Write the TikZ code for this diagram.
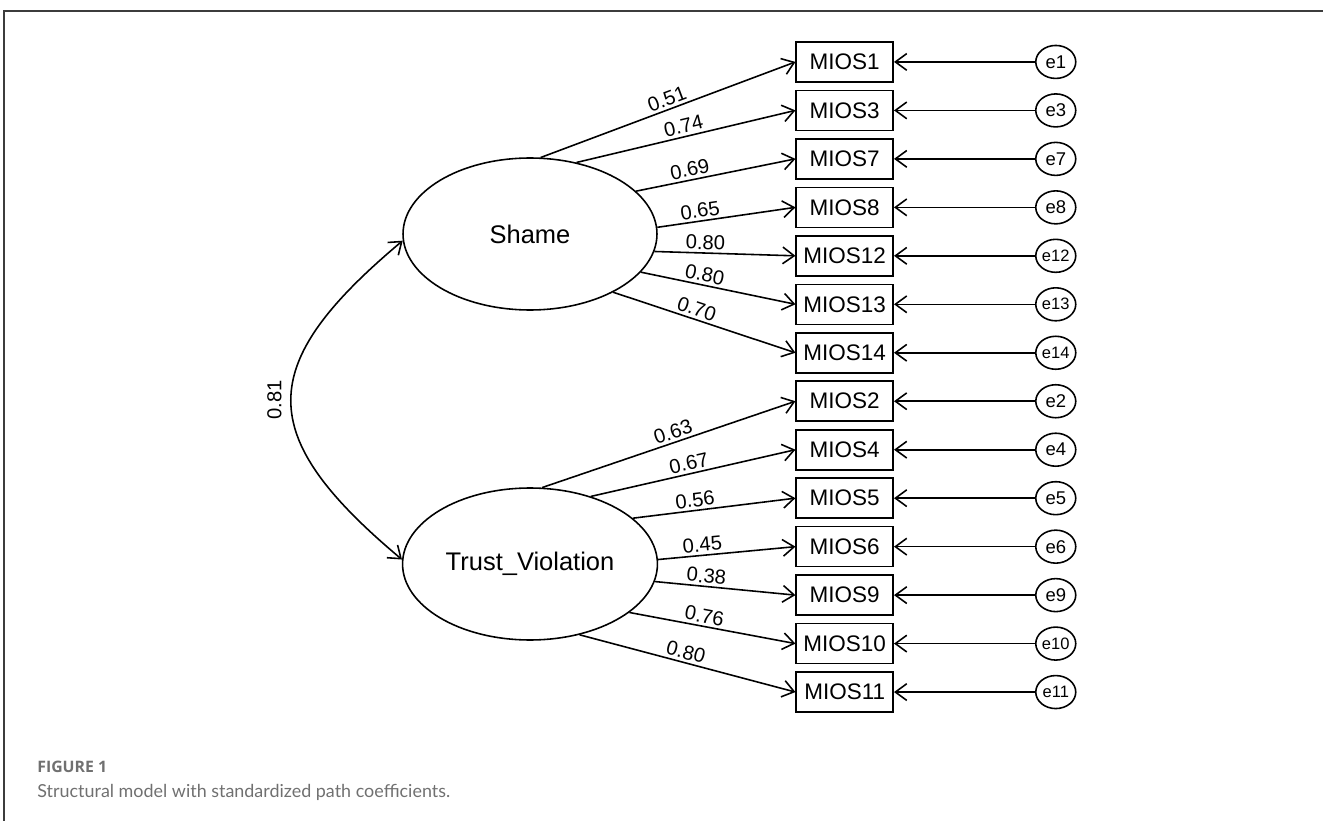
\documentclass[tikz,border=0pt]{standalone}
\usepackage{fontspec}
\setmainfont{Liberation Sans}
\newfontfamily\capfont{Lato}
\newfontfamily\figfont{Open Sans}
\definecolor{capgray}{RGB}{112, 112, 112}
\definecolor{framegray}{RGB}{60, 60, 60}
\usetikzlibrary{arrows.meta}
\usetikzlibrary{matrix}
\usetikzlibrary{shapes.geometric}
\tikzset{
  every matrix/.style={
    matrix of nodes,
    row sep=0.138cm, column sep=2.82cm,
    nodes={anchor=center},
    column 1/.style={nodes=indicator},
    column 2/.style={nodes=errnode},
    ampersand replacement=\&
  },
  indicator/.style={draw, line width=0.9pt, inner sep=0,
    minimum width=1.94cm, minimum height=0.8cm, font=\fontsize{12.8}{15}\selectfont},
  errnode/.style={ellipse, draw, line width=0.9pt, inner sep=0,
    minimum width=0.8cm, minimum height=0.66cm, font=\fontsize{10.5}{12}\selectfont},
  errtwo/.style={font=\fontsize{9.4}{11}\selectfont},
  latent/.style={ellipse, draw, line width=0.9pt,
    minimum width=5.08cm, minimum height=3.04cm, font=\fontsize{14.5}{17}\selectfont},
  >={Straight Barb[length=6.5pt,width=9.5pt]},
  arrow/.style={->, line width=0.9pt},
  coef/.style={sloped, above, inner sep=1.5pt, font=\fontsize{11.5}{13}\selectfont}
}

\begin{document}
\begin{tikzpicture}[x=0.02cm, y=-0.02cm]
\useasboundingbox (0,0) rectangle (1323,821);

% frame
\draw[framegray, line width=0.8pt] (4,821) -- (4,11) -- (1323,11);

% latent factors
\node[latent] (shame) at (530,234) {Shame};
\node[latent] (trust) at (530,564) {Trust\_Violation};

% indicators and errors
\matrix (items) at (936,377) {
MIOS1 \& e1 \\
MIOS3 \& e3 \\
MIOS7 \& e7 \\
MIOS8 \& e8 \\
MIOS12 \& |[errtwo]| e12 \\
MIOS13 \& |[errtwo]| e13 \\
MIOS14 \& |[errtwo]| e14 \\
MIOS2 \& e2 \\
MIOS4 \& e4 \\
MIOS5 \& e5 \\
MIOS6 \& e6 \\
MIOS9 \& e9 \\
MIOS10 \& |[errtwo]| e10 \\
MIOS11 \& |[errtwo]| e11 \\
};

\foreach \row in {1,...,14}
  \draw[arrow] (items-\row-2) -- (items-\row-1);

\foreach \row/\ang/\where/\val in {1/82.5/0.51/0.51, 2/57.6/0.50/0.74, 3/22/0.35/0.69,
    4/3.7/0.32/0.65, 5/-8.2/0.36/0.80, 6/-19.4/0.40/0.80, 7/-35.7/0.44/0.70}
  \draw[arrow] (shame.\ang) -- node[coef, pos=\where] {\val} (items-\row-1.west);

\foreach \row/\ang/\where/\val in {8/81/0.53/0.63, 9/48.2/0.49/0.67, 10/24/0.39/0.56,
    11/2.7/0.33/0.45, 12/-8.9/0.36/0.38, 13/-26.6/0.44/0.76, 14/-55.2/0.48/0.80}
  \draw[arrow] (trust.\ang) -- node[coef, pos=\where] {\val} (items-\row-1.west);

% covariance
\draw[line width=0.9pt, <->] (shame.183) to[out=220, in=140, looseness=1.55]
  node[midway, rotate=90, anchor=south, inner sep=5pt, font=\fontsize{11.5}{13}\selectfont] {0.81} (trust.178);

% caption
\node[anchor=base west, inner sep=0, text=capgray, font=\figfont\bfseries\fontsize{9}{11}\selectfont] (figlabel) at (37,772) {FIGURE 1};
\node[anchor=base west, inner sep=0, text=capgray, font=\capfont\fontsize{10.2}{12}\selectfont] (caption) at (37,797) {Structural model with standardized path coefficients.};
\end{tikzpicture}
\end{document}
